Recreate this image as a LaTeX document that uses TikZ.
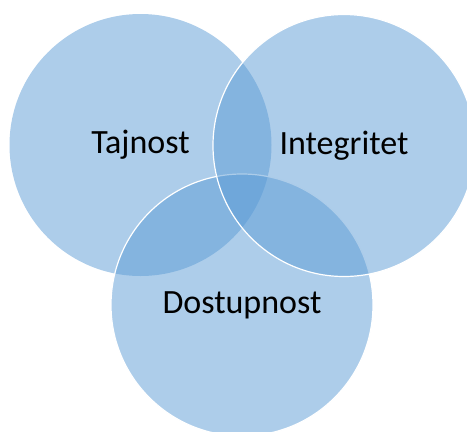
\documentclass[tikz,border=0pt]{standalone}
\usepackage{fontspec}
\setmainfont{Carlito}
\usepackage{xcolor}
\definecolor{vennblue}{HTML}{5B9BD5}

\begin{document}
\begin{tikzpicture}[x=1pt, y=-1pt,
    venn/.style={circle, fill=vennblue, fill opacity=0.5, text opacity=1,
      minimum size=262pt, inner sep=0pt, font=\fontsize{34}{40}\selectfont},
    vennedge/.style={venn, draw=white, line width=1.2pt}]
			% Frame of the picture
			\clip (0,0) rectangle (467,432);

			% Draw circles
			\node[venn] (tajnost) at (140.5,145) {Tajnost};
			\node[vennedge] (dostupnost) at (242,305) {Dostupnost};
			\node[vennedge] (integritet) at (344,145.5) {Integritet};
		\end{tikzpicture}
\end{document}
